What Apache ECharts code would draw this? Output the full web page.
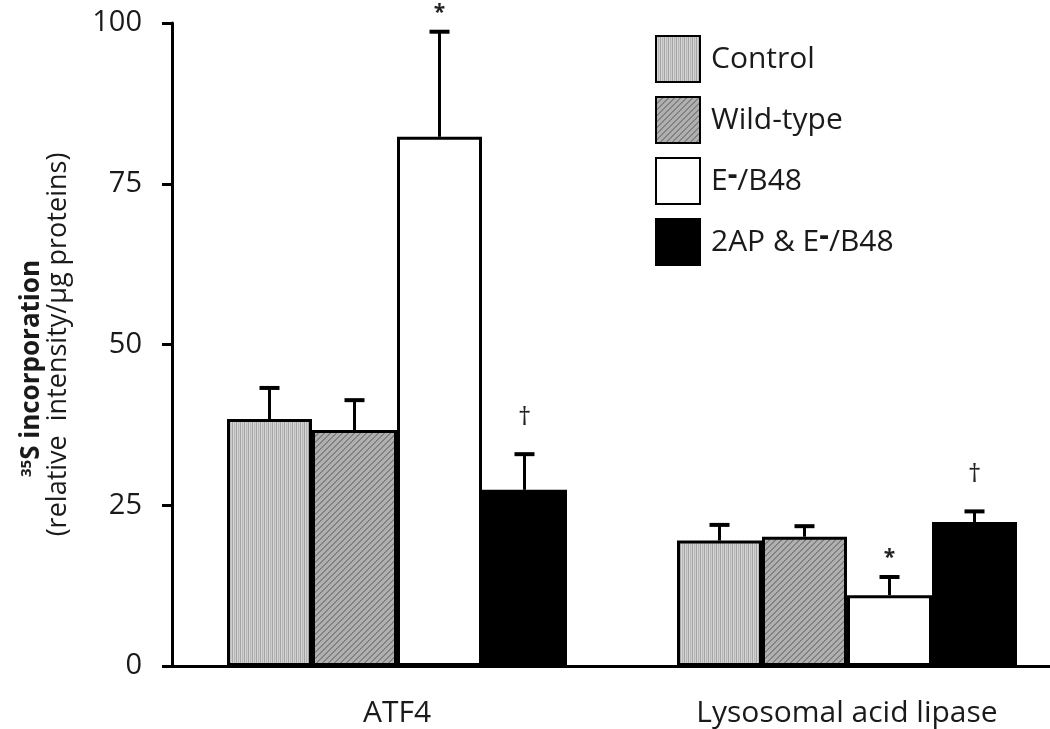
<!DOCTYPE html>
<html>
<head>
<meta charset="utf-8">
<script src="https://cdn.jsdelivr.net/npm/echarts@6/dist/echarts.min.js"></script>
<style>
  html, body { margin: 0; padding: 0; background: #fff; }
  #chart { width: 1050px; height: 729px; }
</style>
</head>
<body>
<div id="chart"></div>
<script>
// ---- data ----
const categories = ['ATF4', 'Lysosomal acid lipase'];
const seriesNames = ['Control', 'Wild-type', 'E⁻/B48', '2AP & E⁻/B48'];
const control = [38.4, 19.5];
const wildType = [36.7, 20.1];
const eB48 = [82.3, 11.0];
const apEB48 = [27.4, 22.4];
const controlErr = [5.0, 2.6];
const wildTypeErr = [4.8, 1.8];
const eB48Err = [16.5, 3.0];
const apEB48Err = [5.7, 1.8];
const controlMarks = ['', ''];
const wildTypeMarks = ['', ''];
const eB48Marks = ['*', '*'];
const apEB48Marks = ['†', '†'];
const yMin = 0, yMax = 100, yInterval = 25;

// ---- styles ----
const FONT = '"Open Sans"';
const BAR_W = 85;

function makePattern(w, h, fn) {
  const c = document.createElement('canvas');
  c.width = w; c.height = h;
  const ctx = c.getContext('2d');
  for (let x = 0; x < w; x++) {
    for (let y = 0; y < h; y++) {
      ctx.fillStyle = fn(x, y);
      ctx.fillRect(x, y, 1, 1);
    }
  }
  return { image: c, repeat: 'repeat' };
}
const vStripes = makePattern(4, 4, (x) => ['#a4a4a4', '#d6d6d6', '#b8b8b8', '#cfcfcf'][x]);
const diagStripes = makePattern(6, 6, (x, y) => ((x + y) % 6 < 2 ? '#828282' : '#b0b0b0'));

const means = [control, wildType, eB48, apEB48];
const errs = [controlErr, wildTypeErr, eB48Err, apEB48Err];
const marks = [controlMarks, wildTypeMarks, eB48Marks, apEB48Marks];
const fills = [vStripes, diagStripes, '#ffffff', '#000000'];

const barSeries = seriesNames.map((name, i) => ({
  name: name,
  type: 'bar',
  data: means[i],
  barWidth: BAR_W,
  barGap: '0%',
  itemStyle: { color: fills[i], borderColor: '#000', borderWidth: 3 },
  emphasis: { disabled: true },
  z: 2
}));

const errData = [];
const errNotes = [];
for (let s = 0; s < seriesNames.length; s++) {
  for (let c = 0; c < categories.length; c++) {
    errData.push([c, s, means[s][c], errs[s][c]]);
    errNotes.push(marks[s][c]);
  }
}

const errSeries = {
  name: 'error',
  type: 'custom',
  data: errData,
  z: 5,
  renderItem: function (params, api) {
    const c = api.value(0), s = api.value(1), m = api.value(2), e = api.value(3);
    const base = api.coord([c, m]);
    const top = api.coord([c, m + e]);
    const x = base[0] + (s - 1.5) * BAR_W;
    const children = [
      { type: 'line', shape: { x1: x, y1: base[1], x2: x, y2: top[1] }, style: { stroke: '#000', lineWidth: 3 } },
      { type: 'line', shape: { x1: x - 10, y1: top[1] + 1, x2: x + 10, y2: top[1] + 1 }, style: { stroke: '#000', lineWidth: 4 } }
    ];
    const note = errNotes[params.dataIndex];
    if (note) {
      const isStar = note === '*';
      children.push({
        type: 'text',
        style: {
          text: note,
          x: x,
          y: isStar ? top[1] - 28 : top[1] - 36,
          textAlign: 'center',
          textVerticalAlign: isStar ? 'top' : 'middle',
          font: (isStar ? 'bold 21px ' : '26px ') + FONT,
          fill: '#222'
        }
      });
    }
    return { type: 'group', children: children };
  }
};

const chart = echarts.init(document.getElementById('chart'), null, { renderer: 'canvas' });
chart.setOption({
  animation: false,
  backgroundColor: '#fff',
  grid: { left: 172, top: 23, width: 900, bottom: 63, containLabel: false, outerBoundsMode: 'none' },
  legend: {
    data: seriesNames,
    orient: 'vertical',
    left: 650,
    top: 30,
    icon: 'rect',
    itemWidth: 44,
    itemHeight: 46,
    itemGap: 13,
    selectedMode: false,
    formatter: function (name) {
      const parts = name.split('⁻');
      if (parts.length === 1) return '{n|' + name + '}';
      return parts.map(p => '{n|' + p + '}').join('{sup|-}');
    },
    textStyle: {
      padding: [0, 0, 0, 6],
      rich: {
        n: { fontFamily: FONT, fontSize: 30, color: '#1a1a1a' },
        sup: { fontFamily: FONT, fontSize: 30, fontWeight: 'bold', color: '#1a1a1a', padding: [0, 0, 12, 0] }
      }
    }
  },
  xAxis: {
    type: 'category',
    data: categories,
    axisLine: { lineStyle: { color: '#000', width: 3 } },
    axisTick: { show: false },
    axisLabel: { fontFamily: FONT, fontSize: 30, color: '#1a1a1a', margin: 32 }
  },
  yAxis: {
    type: 'value',
    min: yMin,
    max: yMax,
    interval: yInterval,
    splitLine: { show: false },
    axisLine: { show: true, lineStyle: { color: '#000', width: 3 } },
    axisTick: { show: true, length: 10, lineStyle: { color: '#000', width: 3 } },
    axisLabel: { fontFamily: FONT, fontSize: 29, color: '#1a1a1a', margin: 30 },
    name: '{sup|35}{b|S incorporation}{gap| }\n{n|(relative  intensity/µg proteins)}',
    nameLocation: 'middle',
    nameRotate: 90,
    nameGap: 100,
    nameTextStyle: {
      rich: {
        sup: { fontFamily: FONT, fontSize: 15, fontWeight: 'bold', color: '#1a1a1a', lineHeight: 27, padding: [0, 0, 10, 0] },
        b: { fontFamily: FONT, fontSize: 26, fontWeight: 'bold', color: '#1a1a1a', lineHeight: 27 },
        gap: { fontSize: 10, width: 48, lineHeight: 27 },
        n: { fontFamily: FONT, fontSize: 27, color: '#1a1a1a', lineHeight: 27 }
      }
    }
  },
  series: barSeries.concat([errSeries])
});
</script>
</body>
</html>
